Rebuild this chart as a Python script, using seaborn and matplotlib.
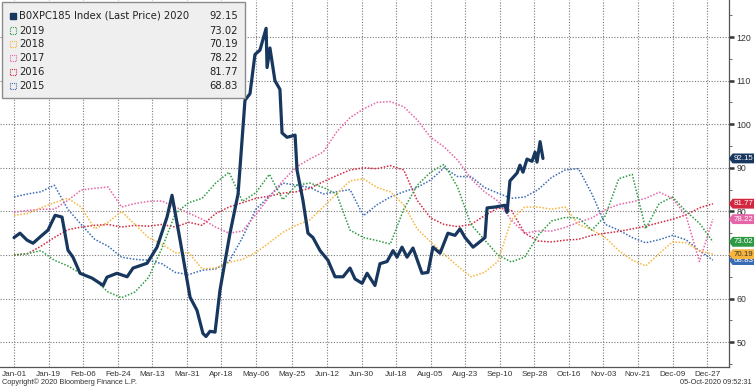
import matplotlib
matplotlib.use("Agg")
import matplotlib.pyplot as plt
from matplotlib.path import Path
from matplotlib.patches import Rectangle
import seaborn as sns
import pandas as pd

# ---- data -------------------------------------------------------------
# weekly grid (days since Jan-01) shared by the older years
week_days = list(range(0, 365, 7))

vals_2019 = [70, 70.3, 71, 68.8, 67.5, 65.7, 64.3, 61.5, 60.2, 61.5,
             64.8, 71.5, 79.5, 82, 83, 86.5, 89, 82.3, 84.3, 88.5,
             82.7, 86, 86.5, 85.5, 84, 75.7, 74, 73.3, 72.5, 80.5,
             86, 89, 90.8, 85.6, 77, 73.5, 70, 68.4, 69.5, 74.5,
             77.8, 78.6, 78.5, 75.7, 79, 87.5, 88.5, 76, 81.8, 83.3,
             80, 77.3, 73.02]
vals_2018 = [79.1, 79.5, 80.8, 82, 83, 81, 76, 77.5, 80, 77,
             74, 72.5, 70.5, 70.5, 66.8, 67, 68.3, 69, 70.6, 72.8,
             75.2, 76.8, 78, 81, 84, 87, 87.5, 85.5, 84.5, 81.5,
             76, 73, 70.2, 67.5, 65, 66, 68.5, 78, 81, 81,
             80.5, 81, 77, 75.8, 74, 71, 68.8, 67.5, 70.3, 73,
             72.8, 71, 70.19]
vals_2017 = [79.8, 80.2, 80.5, 80.5, 82.5, 84.9, 85.3, 85.6, 81, 81.8,
             82.3, 82.4, 81, 79.6, 78.2, 76.4, 75, 75.5, 79.3, 83.3,
             87, 90.2, 92, 93.6, 98.2, 101.5, 103.5, 105, 105.2, 104,
             101, 97, 94.8, 91.8, 87.5, 84.5, 82.4, 78, 75, 75.5,
             75.5, 76.3, 77.5, 78.5, 80.4, 81.6, 82.2, 83, 84.4, 83,
             79, 68.5, 78.22]
vals_2016 = [70, 70.3, 72, 74, 75.8, 76.4, 76.8, 77, 76.4, 76.8,
             76.6, 77, 76.4, 77.5, 76.8, 79.5, 81, 82, 83, 83.5,
             84.2, 84.5, 85.3, 86.8, 88.2, 89.5, 90, 89.8, 90.5, 89.5,
             82.5, 78.5, 77, 76.5, 77, 79, 80.8, 80.3, 75, 73.2,
             73, 73.4, 73.6, 74.5, 75, 75.4, 76, 76.6, 77.4, 78.2,
             79.2, 80.8, 81.77]
vals_2015 = [83.3, 84, 84.5, 86, 80.5, 77, 73.6, 72, 69.5, 69,
             68.8, 68, 66, 65.5, 66.5, 66.8, 68.5, 74, 80.5, 83.5,
             86.5, 86, 85.5, 84, 84.5, 85, 79, 81.5, 83.3, 84.5,
             85.5, 87.2, 90, 88, 88, 85.5, 84.2, 83, 83.3, 85,
             87.8, 89.5, 89.8, 84, 77, 75.7, 74, 72.8, 73.5, 74.5,
             73.5, 71, 68.83]

# 2020 (daily-ish readings, days since Jan-01)
days_2020 = [0, 3.1, 6.8, 9.9, 13.5, 17.7, 21.4, 25.0, 28.1, 30.7,
             34.4, 40.6, 44.8, 46.4, 48.4, 53.6, 58.9, 62.0, 69.3, 74.5,
             79.7, 82.3, 86.5, 91.7, 95.3, 98.4, 100.0, 102.1, 104.7, 107.3,
             112.5, 116.7, 120.3, 122.9, 125.5, 128.1, 131.3, 131.8, 133.3, 135.9,
             138.5, 139.6, 142.2, 146.4, 147.4, 150.5, 153.1, 155.7, 159.4, 163.5,
             167.2, 171.4, 175.0, 177.6, 181.3, 183.9, 188.0, 190.6, 194.3, 197.4,
             199.5, 202.1, 204.7, 207.8, 212.5, 215.6, 218.2, 221.9, 226.0, 229.7,
             232.3, 234.9, 239.1, 241.7, 245.3, 246.4, 250.5, 255.7, 256.8, 258.3,
             262.0, 263.5, 265.1, 267.2, 269.8, 271.4, 272.4, 274.0, 275.5]
vals_2020 = [74.0, 75.0, 73.4, 72.7, 74.1, 75.7, 79.1, 78.7, 71.1, 69.5,
             65.8, 64.7, 63.5, 63.0, 64.9, 65.8, 65.0, 67.0, 68.1, 71.8,
             78.7, 83.7, 73.4, 60.3, 57.3, 52.0, 51.3, 52.5, 52.3, 62.0,
             75.0, 84.0, 105.5, 107.0, 116.0, 117.0, 122.0, 113.0, 117.5, 110.0,
             108.0, 98.0, 97.0, 97.5, 89.5, 82.5, 75.0, 74.0, 71.0, 68.8,
             65.0, 65.0, 67.0, 64.5, 63.5, 65.8, 63.0, 68.0, 68.5, 71.0,
             69.5, 71.8, 69.5, 71.6, 65.8, 66.0, 71.8, 70.4, 75.0, 74.5,
             76.0, 74.0, 71.8, 72.7, 74.0, 80.8, 81.0, 81.4, 79.8, 87.0,
             88.8, 90.6, 89.0, 92.0, 91.5, 93.6, 91.3, 96.0, 92.15]

tick_labels = ["Jan-01", "Jan-19", "Feb-06", "Feb-24", "Mar-13", "Mar-31", "Apr-18",
               "May-06", "May-25", "Jun-12", "Jun-30", "Jul-18", "Aug-05", "Aug-23",
               "Sep-10", "Sep-28", "Oct-16", "Nov-03", "Nov-21", "Dec-09", "Dec-27"]
y_ticks = [50, 60, 70, 80, 90, 100, 110, 120]

series_names = ["B0XPC185 Index (Last Price) 2020", "2019", "2018", "2017", "2016", "2015"]
series_colors = ["#17375e", "#2e9b44", "#f7b53d", "#e465a8", "#d3263f", "#3a6cb4"]

# ---- plot -------------------------------------------------------------
sns.set_style("white")
plt.rcParams["font.family"] = ["DejaVu Sans"]
small_font = ["Liberation Sans", "DejaVu Sans"]

base = pd.Timestamp("2020-01-01")
week_dates = base + pd.to_timedelta(week_days, unit="D")
dates_2020 = base + pd.to_timedelta(days_2020, unit="D")

fig = plt.figure(figsize=(7.54, 3.88), dpi=100)
ax = fig.add_axes([0, 21 / 388, 729 / 754, 367 / 388])

older = [vals_2019, vals_2018, vals_2017, vals_2016, vals_2015]
for vals, color in zip(older[::-1], series_colors[1:][::-1]):
    sns.lineplot(x=week_dates, y=vals, ax=ax, color=color, linewidth=1.1,
                 linestyle=(0, (1, 1.1)), errorbar=None, legend=False)
sns.lineplot(x=dates_2020, y=vals_2020, ax=ax, color=series_colors[0],
             linewidth=2.3, errorbar=None, legend=False)

ax.set_xlim(base - pd.Timedelta(days=7.3), base + pd.Timedelta(days=372.4))
ax.set_ylim(44.3, 128.5)
ax.set_xlabel("")
ax.set_ylabel("")

tick_dates = pd.to_datetime(["2020-" + t for t in tick_labels], format="%Y-%b-%d")
ax.set_xticks(tick_dates)
ax.set_xticklabels(tick_labels)
ax.yaxis.tick_right()
ax.set_yticks(y_ticks)
ax.set_yticks(range(45, 129, 5), minor=True)

ax.grid(True, which="major", linestyle=(0, (1, 1.5)), color="#7a7a7a", linewidth=0.8)
ax.tick_params(axis="x", which="major", direction="out", length=2, width=0.8,
               labelsize=5.9, pad=0.8, colors="#333333")
ax.tick_params(axis="y", which="major", direction="out", length=3.5, width=1.8,
               labelsize=6.3, pad=2, colors="#333333")
ax.tick_params(axis="y", which="minor", direction="out", length=2, width=0.6,
               colors="#555555")
for lbl in ax.get_xticklabels() + ax.get_yticklabels():
    lbl.set_family(small_font)

for side in ["left", "top"]:
    ax.spines[side].set_visible(False)
for side in ["right", "bottom"]:
    ax.spines[side].set_color("#555555")
    ax.spines[side].set_linewidth(0.9)

# ---- legend box -------------------------------------------------------
ax.add_patch(Rectangle((2 / 729, 1 - 98 / 367), 243 / 729, 96 / 367,
                       transform=ax.transAxes, facecolor="#efefef",
                       edgecolor="#8c8c8c", linewidth=1.0, zorder=5))
last_vals = [vals_2020[-1], vals_2019[-1], vals_2018[-1], vals_2017[-1],
             vals_2016[-1], vals_2015[-1]]
row_px = [16, 30.5, 44, 58, 72, 86]
for i, (name, color, v) in enumerate(zip(series_names, series_colors, last_vals)):
    yf = 1 - row_px[i] / 367
    if i == 0:
        sq = Rectangle((10 / 729, yf - 3 / 367), 6 / 729, 6 / 367, transform=ax.transAxes,
                       facecolor=color, edgecolor=color, zorder=6)
    else:
        sq = Rectangle((10 / 729, yf - 3 / 367), 6 / 729, 6 / 367, transform=ax.transAxes,
                       facecolor="none", edgecolor=color, linestyle=(0, (1, 1)),
                       linewidth=0.8, zorder=6)
    ax.add_patch(sq)
    ax.text(19 / 729, yf, name, transform=ax.transAxes, fontsize=7.2,
            color="#222222", va="center", ha="left", zorder=6)
    ax.text(238 / 729, yf, f"{v:.2f}", transform=ax.transAxes, fontsize=7.2,
            color="#222222", va="center", ha="right", zorder=6)


# ---- value tags on the right axis ------------------------------------
def tag_box(x0, y0, width, height, mutation_size):
    pad = mutation_size * 0.18
    x0, y0 = x0 - pad, y0 - pad
    width, height = width + 2 * pad, height + 2 * pad
    tip = height * 0.38
    x1, y1, ym = x0 + width + 6, y0 + height, y0 + height / 2
    verts = [(x0 - tip, ym), (x0, y1), (x1, y1), (x1, y0), (x0, y0), (x0 - tip, ym)]
    return Path(verts, closed=True)


tag_order = [0, 4, 3, 1, 5, 2]
for i in tag_order:
    v = last_vals[i]
    txt_color = "#333333" if i == 2 else "white"
    ax.text(734 / 729, v, f"{v:.2f}", transform=ax.get_yaxis_transform(),
            fontsize=5.7, color=txt_color, va="center", ha="left",
            family=small_font,
            bbox=dict(boxstyle=tag_box, facecolor=series_colors[i], edgecolor="none"),
            clip_on=False, zorder=10)

fig.text(2 / 754, 1 - 382.5 / 388, "Copyright\u00a9 2020 Bloomberg Finance L.P.",
         fontsize=5.3, color="#333333", ha="left", va="center", family=small_font)
fig.text(752 / 754, 1 - 382.5 / 388, "05-Oct-2020 09:52:31",
         fontsize=5.3, color="#333333", ha="right", va="center", family=small_font)

fig.savefig("out.png", dpi=100)
